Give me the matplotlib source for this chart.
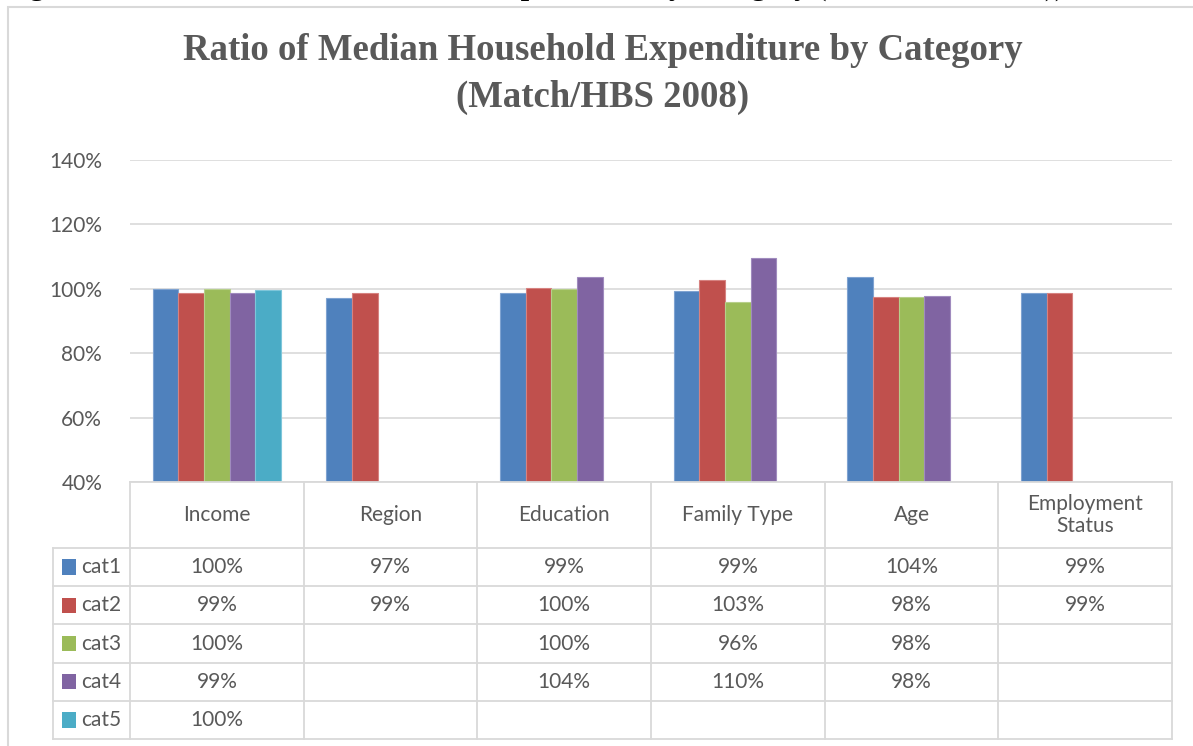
import numpy as np
import matplotlib
matplotlib.use('Agg')
import matplotlib.pyplot as plt
from matplotlib.patches import Rectangle

# data
categories = ['Income', 'Region', 'Education', 'Family Type', 'Age', 'Employment\nStatus']
series_names = ['cat1', 'cat2', 'cat3', 'cat4', 'cat5']
nan = np.nan
cat1 = [0.998, 0.970, 0.986, 0.993, 1.036, 0.986]
cat2 = [0.986, 0.986, 1.001, 1.026, 0.976, 0.987]
cat3 = [0.998, nan, 0.998, 0.958, 0.976, nan]
cat4 = [0.986, nan, 1.037, 1.096, 0.978, nan]
cat5 = [0.995, nan, nan, nan, nan, nan]
yticks = [0.4, 0.6, 0.8, 1.0, 1.2, 1.4]

colors = ['#4F81BD', '#C0504D', '#9BBB59', '#8064A2', '#4BACC6']
edges = ['#7FA3D1', '#D68280', '#B7CF8B', '#A08BBE', '#7EC6DA']
txt_color = '#595959'
line_color = '#D9D9D9'
body_font = ['Lato', 'DejaVu Sans']

W, H = 1193, 746
fig = plt.figure(figsize=(W / 100, H / 100), dpi=100)

def px(left, top, right, bottom):
    # pixel box -> figure fraction rect
    return [left / W, 1 - bottom / H, (right - left) / W, (bottom - top) / H]

# chart frame (runs off the right / bottom of the picture)
fig.patches.append(Rectangle((8 / W, -0.1), 1.2, 1 - 7 / H + 0.1,
                             transform=fig.transFigure, fill=False,
                             edgecolor=line_color, linewidth=1.5))

# caption above the chart, cut off by the top edge as in the source
fig.text(3 / W, 1 + 5.5 / H,
         'Figure 2: Ratio of Median Household Expenditure by Category (Match/HBS 2008))',
         fontsize=21.5, fontweight='bold', family='Liberation Serif',
         va='baseline', ha='left', color='black')

# title
fig.text(603 / W, 1 - 60 / H, 'Ratio of Median Household Expenditure by Category',
         fontsize=26.5, fontweight='bold', family='Liberation Serif',
         color=txt_color, ha='center', va='baseline')
fig.text(603 / W, 1 - 107 / H, '(Match/HBS 2008)',
         fontsize=26.5, fontweight='bold', family='Liberation Serif',
         color=txt_color, ha='center', va='baseline')

# bar area
ax = fig.add_axes(px(130, 160, 1172, 482))
data = [cat1, cat2, cat3, cat4, cat5]
x = np.arange(len(categories))
slot = 0.148
for j, (vals, c, e) in enumerate(zip(data, colors, edges)):
    ax.bar(x + (j - 2) * slot, vals, width=slot, bottom=0, color=c,
           edgecolor=e, linewidth=0.8, zorder=3)
ax.set_xlim(-0.5, len(categories) - 0.5)
ax.set_ylim(0.4, 1.4)
ax.set_yticks(yticks)
ax.set_yticklabels(['%d%%' % round(v * 100) for v in yticks],
                   family=body_font, fontsize=15, color=txt_color)
ax.tick_params(axis='y', length=0, pad=20)
ax.set_xticks([])
ax.grid(axis='y', color=line_color, linewidth=1.2, zorder=0)
for s in ax.spines.values():
    s.set_visible(False)

# data table under the bars
unit = (1172 - 130) / len(categories)
tab_left = 53
tab = fig.add_axes(px(tab_left, 482, 1172, 739))
head = 66 / 38.2
nrows = len(series_names)
tab.set_xlim(-0.5 - (130 - tab_left) / unit, len(categories) - 0.5)
tab.set_ylim(0, nrows + head)
tab.axis('off')
lkw = dict(color=line_color, linewidth=1.3, clip_on=False)
x0 = -0.5 - (130 - tab_left) / unit
x1 = len(categories) - 0.5
# horizontals
tab.plot([-0.5, x1], [nrows + head] * 2, **lkw)
for r in range(nrows + 1):
    tab.plot([x0, x1], [r, r], **lkw)
# verticals
tab.plot([x0, x0], [0, nrows], **lkw)
for i in range(len(categories) + 1):
    tab.plot([i - 0.5] * 2, [0, nrows + head], **lkw)

tkw = dict(family=body_font, fontsize=15, color=txt_color, ha='center', va='center')
for i, cat in enumerate(categories):
    tab.text(i, nrows + head / 2, cat, linespacing=1.1, **tkw)
for r, (name, vals, c) in enumerate(zip(series_names, data, colors)):
    yc = nrows - r - 0.5
    tab.add_patch(Rectangle((x0 + 0.05, yc - 0.2), 0.085, 0.4,
                            facecolor=c, edgecolor='none'))
    tab.text(x0 + 0.16, yc, name, family=body_font, fontsize=15,
             color=txt_color, ha='left', va='center')
    for i, v in enumerate(vals):
        if not np.isnan(v):
            tab.text(i, yc, '%.0f%%' % (v * 100), **tkw)

fig.savefig('out.png', dpi=100)
